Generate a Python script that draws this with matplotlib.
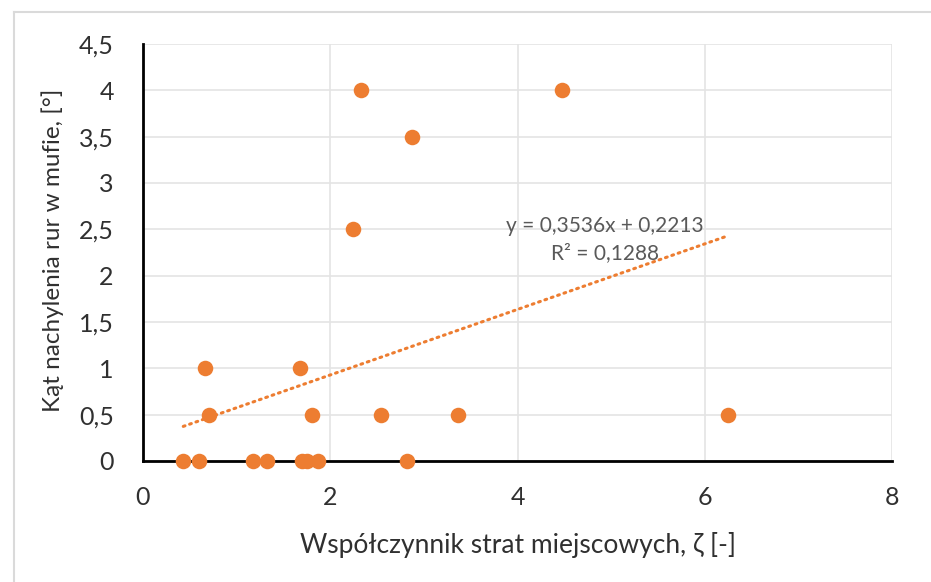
import matplotlib
matplotlib.use("Agg")
import matplotlib.pyplot as plt
from matplotlib.lines import Line2D
from matplotlib.ticker import FuncFormatter

plt.rcParams["font.family"] = ["Lato", "DejaVu Sans"]

# data
zeta = [0.43, 0.60, 1.18, 1.32, 1.70, 1.75, 1.87, 2.82,
        0.71, 1.80, 2.54, 3.36, 6.25,
        0.66, 1.68,
        2.24, 2.87, 2.33, 4.48]
angle = [0, 0, 0, 0, 0, 0, 0, 0,
         0.5, 0.5, 0.5, 0.5, 0.5,
         1, 1,
         2.5, 3.5, 4, 4]
trend_slope = 0.3536
trend_icpt = 0.2213
trend_label = "y = 0,3536x + 0,2213\nR² = 0,1288"

ORANGE = "#ED7D31"
GRID = "#E4E4E4"
TEXT = "#303030"

fig = plt.figure(figsize=(9.31, 5.82), dpi=100)
ax = fig.add_axes([143 / 931, 1 - 461 / 582, (892 - 143) / 931, (461 - 44) / 582])

# outer frame of the chart area
fig.add_artist(Line2D([14 / 931, 1.0], [1 - 12 / 582] * 2, transform=fig.transFigure,
                      color="#DADADA", lw=1.5))
fig.add_artist(Line2D([14 / 931] * 2, [0.0, 1 - 12 / 582], transform=fig.transFigure,
                      color="#DADADA", lw=1.5))

ax.scatter(zeta, angle, s=125, color=ORANGE, zorder=3, clip_on=False, linewidths=0)

xs = [min(zeta), max(zeta)]
ys = [trend_slope * v + trend_icpt for v in xs]
ax.plot(xs, ys, color=ORANGE, lw=2.2, linestyle=(0, (0.6, 1.6)), dash_capstyle="round", zorder=2)

ax.text(4.93, 2.39, trend_label, ha="center", va="center", fontsize=15,
        color="#595959", linespacing=1.4)

ax.set_xlim(0, 8)
ax.set_ylim(0, 4.5)
ax.set_xticks([0, 2, 4, 6, 8])
ax.set_yticks([i * 0.5 for i in range(10)])
comma = FuncFormatter(lambda v, p: f"{v:g}".replace(".", ","))
ax.xaxis.set_major_formatter(comma)
ax.yaxis.set_major_formatter(comma)

ax.grid(True, color=GRID, lw=1.2)
ax.set_axisbelow(True)
for side in ("top", "right"):
    ax.spines[side].set_visible(False)
for side in ("left", "bottom"):
    ax.spines[side].set_color("black")
    ax.spines[side].set_linewidth(2)
ax.tick_params(length=0, labelsize=18, colors=TEXT)
ax.tick_params(axis="x", pad=18)
ax.tick_params(axis="y", pad=21)

ax.set_xlabel("Współczynnik strat miejscowych, ζ [-]", fontsize=19, color=TEXT, va="center")
ax.set_ylabel("Kąt nachylenia rur w mufie, [°]", fontsize=17.5, color=TEXT, va="center")
ax.xaxis.set_label_coords(0.5, -0.201)
ax.yaxis.set_label_coords(-0.120, 0.506)

fig.savefig("out.png", dpi=100)
